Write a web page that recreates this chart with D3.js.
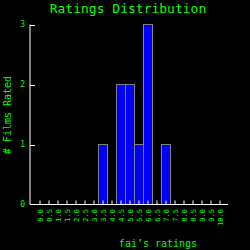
<!DOCTYPE html>
<html>
<head>
<meta charset="utf-8">
<script src="https://cdn.jsdelivr.net/npm/d3@7"></script>
<style>
  html, body { margin: 0; padding: 0; background: #000; }
  svg { display: block; }
  text { font-family: "DejaVu Sans Mono", monospace; fill: #00ff00; }
</style>
</head>
<body>
<svg id="chart" width="250" height="250"></svg>
<script>
// ---- data ----
const ratings = ["0.0","0.5","1.0","1.5","2.0","2.5","3.0","3.5","4.0","4.5",
                 "5.0","5.5","6.0","6.5","7.0","7.5","8.0","8.5","9.0","9.5","10.0"];
const counts  = [0,0,0,0,0,0,0,1,0,2,
                 2,1,3,0,1,0,0,0,0,0,0];
const yTicks  = [0, 1, 2, 3];

/* ============================================================
   SETUP
============================================================ */
const svg = d3.select("#chart");
const axisLeft = 30, axisRight = 228;
const plotTop = 24.5, plotBottom = 204.5;

const x = d3.scaleBand()
  .domain(ratings)
  .range([35.5, 35.5 + 9 * ratings.length])
  .padding(0);

const y = d3.scaleLinear()
  .domain([0, 3])
  .range([plotBottom, plotTop]);

/* ============================================================
   BARS
============================================================ */
svg.append("g")
  .selectAll("rect")
  .data(ratings.map((r, i) => ({ r, v: counts[i] })).filter(d => d.v > 0))
  .join("rect")
  .attr("x", d => x(d.r))
  .attr("y", d => y(d.v))
  .attr("width", x.bandwidth())
  .attr("height", d => plotBottom - y(d.v))
  .attr("fill", "#0000ff")
  .attr("stroke", "#808080")
  .attr("stroke-width", 1);

/* ============================================================
   AXES
============================================================ */
const axes = svg.append("g").attr("stroke", "#fff").attr("stroke-width", 1);

axes.append("line")
  .attr("x1", axisLeft).attr("x2", axisLeft)
  .attr("y1", plotTop).attr("y2", plotBottom);
axes.append("line")
  .attr("x1", axisLeft).attr("x2", axisRight)
  .attr("y1", plotBottom).attr("y2", plotBottom);

// x ticks point up into the plot
axes.selectAll(".xt")
  .data(ratings)
  .join("line")
  .attr("x1", d => x(d) + x.bandwidth() / 2)
  .attr("x2", d => x(d) + x.bandwidth() / 2)
  .attr("y1", plotBottom).attr("y2", plotBottom - 4);

// y ticks point right
axes.selectAll(".yt")
  .data(yTicks.slice(1))
  .join("line")
  .attr("x1", axisLeft).attr("x2", axisLeft + 5)
  .attr("y1", d => Math.round(y(d)) + 0.5)
  .attr("y2", d => Math.round(y(d)) + 0.5);

// tick labels
svg.append("g")
  .selectAll("text")
  .data(yTicks)
  .join("text")
  .attr("x", 25)
  .attr("y", d => y(d) + 2.5)
  .attr("text-anchor", "end")
  .attr("font-size", 8)
  .text(d => d);

svg.append("g")
  .selectAll("text")
  .data(ratings)
  .join("text")
  .attr("transform", d => `translate(${x(d) + x.bandwidth() / 2 + 2.5},209) rotate(-90)`)
  .attr("text-anchor", "end")
  .attr("font-size", 7)
  .text(d => d);

/* ============================================================
   TITLES
============================================================ */
svg.append("text")
  .attr("x", 128).attr("y", 13)
  .attr("text-anchor", "middle")
  .attr("font-size", 13)
  .text("Ratings Distribution");

svg.append("text")
  .attr("transform", "translate(11,115) rotate(-90)")
  .attr("text-anchor", "middle")
  .attr("font-size", 10)
  .text("# Films Rated");

svg.append("text")
  .attr("x", 158).attr("y", 247)
  .attr("text-anchor", "middle")
  .attr("font-size", 10)
  .text("fai’s ratings");
</script>
</body>
</html>
